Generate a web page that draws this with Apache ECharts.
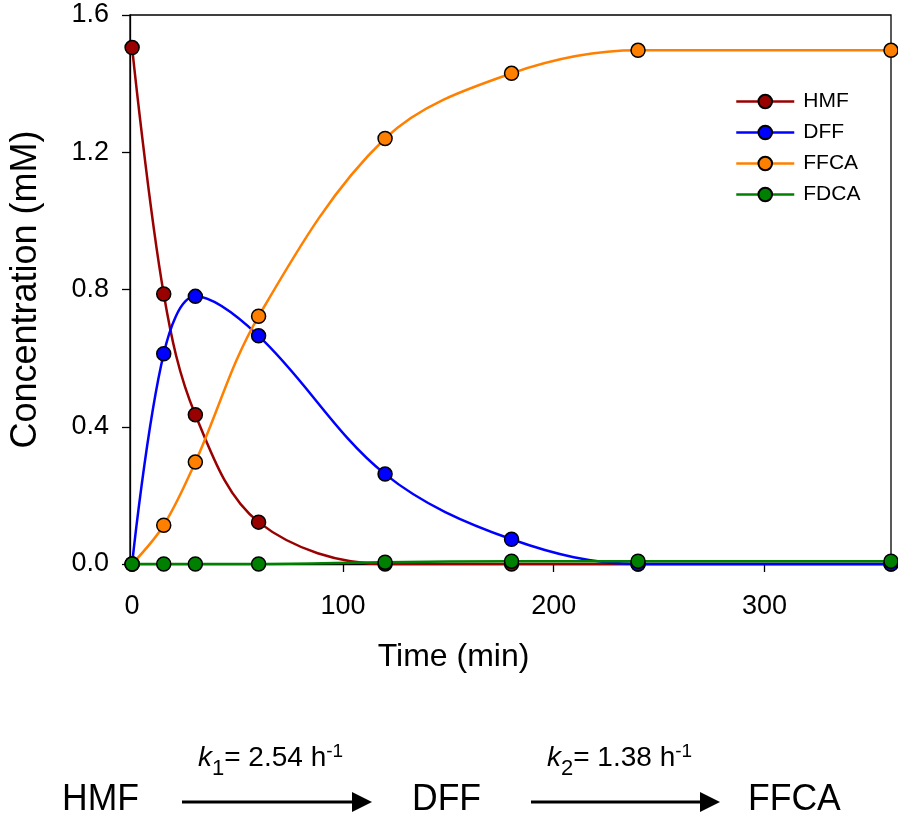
<!DOCTYPE html>
<html>
<head>
<meta charset="utf-8">
<script src="https://cdn.jsdelivr.net/npm/echarts@6/dist/echarts.min.js"></script>
<style>
html,body{margin:0;padding:0;background:#fff;}
#c{width:898px;height:828px;}
</style>
</head>
<body>
<div id="c"></div>
<script>
var times = [0, 15, 30, 60, 120, 180, 240, 360];
var hmf  = [1.505, 0.787, 0.435, 0.122, 0.0, 0.0, 0.0, 0.0];
var dff  = [0.0, 0.613, 0.780, 0.665, 0.262, 0.072, 0.0, 0.0];
var ffca = [0.0, 0.113, 0.297, 0.722, 1.240, 1.430, 1.497, 1.497];
var fdca = [0.0, 0.0, 0.0, 0.0, 0.005, 0.008, 0.008, 0.008];
var seriesNames = ['HMF', 'DFF', 'FFCA', 'FDCA'];
var xTicks = [0, 100, 200, 300];

var colors = ['#990000', '#0000FF', '#FF8000', '#008000'];
var allData = [hmf, dff, ffca, fdca];
var FONT = 'Liberation Sans, Arial, sans-serif';

function pairs(arr) {
  return times.map(function (t, i) { return [t, arr[i]]; });
}

var series = seriesNames.map(function (name, i) {
  return {
    name: name,
    type: 'line',
    data: pairs(allData[i]),
    smooth: 0.35,
    symbol: 'circle',
    symbolSize: 14,
    showSymbol: true,
    clip: false,
    lineStyle: { color: colors[i], width: 2.5 },
    itemStyle: { color: colors[i], borderColor: '#000', borderWidth: 1.5 },
    emphasis: { disabled: true },
    z: 3 + i
  };
});

var chart = echarts.init(document.getElementById('c'), null, { renderer: 'canvas' });
chart.setOption({
  animation: false,
  backgroundColor: '#fff',
  textStyle: { fontFamily: FONT },
  grid: {
    left: 126, right: 7, top: 15, bottom: 264,
    show: true, borderColor: '#000', borderWidth: 1.3, backgroundColor: 'transparent'
  },
  legend: {
    data: seriesNames,
    orient: 'vertical',
    left: 730, top: 86,
    itemWidth: 58, itemHeight: 17, itemGap: 10,
    lineStyle: { width: 2.5 },
    textStyle: { fontSize: 21, color: '#000', fontFamily: FONT, padding: [0, 0, 0, 4] },
    selectedMode: false
  },
  xAxis: {
    type: 'value', min: -1, max: 360,
    name: 'Time (min)', nameLocation: 'middle', nameGap: 77,
    nameTextStyle: { fontSize: 32, color: '#000', fontFamily: FONT, padding: [0, 114, 0, 0] },
    axisLine: { show: true, onZero: false, lineStyle: { color: '#000', width: 1.3 } },
    axisTick: { show: true, inside: false, length: 8, lineStyle: { color: '#000', width: 1.3 }, customValues: xTicks },
    axisLabel: { show: true, margin: 29, fontSize: 27, color: '#000', fontFamily: FONT, customValues: xTicks },
    splitLine: { show: false }
  },
  yAxis: {
    type: 'value', min: 0, max: 1.6, interval: 0.4,
    name: 'Concentration (mM)', nameLocation: 'middle', nameGap: 86,
    nameTextStyle: { fontSize: 36, color: '#000', fontFamily: FONT },
    axisLine: { show: true, onZero: false, lineStyle: { color: '#000', width: 1.3 } },
    axisTick: { show: true, inside: false, length: 8, lineStyle: { color: '#000', width: 1.3 } },
    axisLabel: { margin: 21, fontSize: 27, color: '#000', fontFamily: FONT,
      formatter: function (v) { return v.toFixed(1); } },
    splitLine: { show: false }
  },
  series: series
});

var g = [];
// Reaction scheme
function bigText(txt, x) {
  return { type: 'text', left: x, top: 781, style: { text: txt, fontSize: 37, fill: '#000', fontFamily: FONT }, scaleX: 0.96 };
}
g.push(bigText('HMF', 62));
g.push(bigText('DFF', 412));
g.push(bigText('FFCA', 748));

function arrow(x1, x2, y) {
  return {
    type: 'group', children: [
      { type: 'line', shape: { x1: x1, y1: y, x2: x2 - 18, y2: y }, style: { stroke: '#000', lineWidth: 3 } },
      { type: 'polygon', shape: { points: [[x2 - 20, y - 10], [x2, y], [x2 - 20, y + 10]] }, style: { fill: '#000' } }
    ]
  };
}
g.push(arrow(182, 372, 802));
g.push(arrow(531, 720, 802));

function kText(sub, val, x) {
  return {
    type: 'text', left: x, top: 742,
    style: {
      text: '{k|k}{s|' + sub + '}{n|= ' + val + ' h}{p|-1}',
      rich: {
        k: { fontSize: 28, fontStyle: 'italic', fontFamily: FONT, fill: '#000', verticalAlign: 'bottom' },
        s: { fontSize: 22, fontFamily: FONT, fill: '#000', padding: [0, 0, -8, 0], verticalAlign: 'bottom' },
        n: { fontSize: 28, fontFamily: FONT, fill: '#000', verticalAlign: 'bottom' },
        p: { fontSize: 19, fontFamily: FONT, fill: '#000', padding: [0, 0, 11, 0], verticalAlign: 'bottom' }
      }
    },
    scaleX: 1.0
  };
}
g.push(kText('1', '2.54', 198));
g.push(kText('2', '1.38', 547));

chart.setOption({ graphic: g });
</script>
</body>
</html>
